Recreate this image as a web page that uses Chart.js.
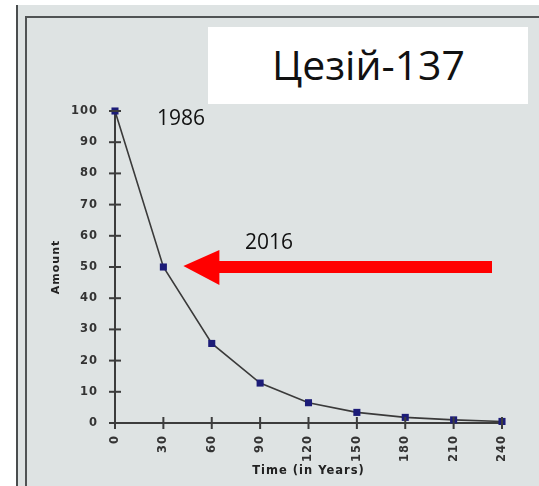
<!DOCTYPE html>
<html>
<head>
<meta charset="utf-8">
<script src="https://cdn.jsdelivr.net/npm/chart.js@4"></script>
<style>
  html, body { margin: 0; padding: 0; background: #ffffff; }
  #wrap { position: relative; width: 539px; height: 486px; overflow: hidden; }
  canvas { position: absolute; left: 0; top: 0; }
  .lbl { position: absolute; font-family: "Open Sans", "Noto Sans", sans-serif; color: #111; white-space: nowrap; line-height: 1; }
  #titlebox { position: absolute; left: 208px; top: 27px; width: 320px; height: 77px; background: #ffffff; }
</style>
</head>
<body>
<div id="wrap">
  <canvas id="c" width="539" height="486"></canvas>
  <div id="titlebox"></div>
  <div class="lbl" id="t1" style="left:272px; top:44px; font-size:41px;">Цезій-137</div>
  <div class="lbl" id="t2" style="left:157px; top:107px; font-size:21px;">1986</div>
  <div class="lbl" id="t3" style="left:245px; top:231px; font-size:21px;">2016</div>
</div>
<script>
const years = [0, 30, 60, 90, 120, 150, 180, 210, 240];
const amount = [100, 50, 25.5, 12.8, 6.5, 3.4, 1.8, 1.0, 0.5];
const xTitle = "Time (in Years)";
const yTitle = "Amount";
const arrowYear = 30;
const arrowAmount = 50;

const axisColor = "#3c3c3c";
const tickFont = { family: "DejaVu Sans", size: 11.5, weight: "bold" };

const decor = {
  id: "decor",
  beforeDraw(chart) {
    const ctx = chart.ctx;
    ctx.save();
    ctx.fillStyle = "#ffffff";
    ctx.fillRect(0, 0, 539, 486);
    ctx.fillStyle = "#dee3e3";
    ctx.fillRect(16, 5, 523, 481);
    ctx.strokeStyle = "#4a4d4e";
    ctx.lineWidth = 2;
    ctx.beginPath();
    ctx.moveTo(17, 5); ctx.lineTo(17, 486);
    ctx.stroke();
    ctx.strokeStyle = "#505354";
    ctx.beginPath();
    ctx.moveTo(539, 17); ctx.lineTo(26, 17); ctx.lineTo(26, 486);
    ctx.stroke();
    ctx.restore();
    ctx.letterSpacing = "1px";
  },
  afterDraw(chart) {
    const ctx = chart.ctx;
    const xs = chart.scales.x, ys = chart.scales.y;
    ctx.save();
    ctx.strokeStyle = axisColor;
    ctx.lineWidth = 2;
    const x0 = xs.getPixelForValue(0), y0 = ys.getPixelForValue(0);
    ys.ticks.forEach(t => {
      const y = ys.getPixelForValue(t.value);
      ctx.beginPath(); ctx.moveTo(x0 - 6, y); ctx.lineTo(x0 + 6, y); ctx.stroke();
    });
    xs.ticks.forEach(t => {
      const x = xs.getPixelForValue(t.value);
      ctx.beginPath(); ctx.moveTo(x, y0 - 6); ctx.lineTo(x, y0 + 6); ctx.stroke();
    });
    // red arrow pointing at the 50% point
    const tipX = xs.getPixelForValue(arrowYear) + 20;
    const tipY = ys.getPixelForValue(arrowAmount) - 1;
    ctx.fillStyle = "#ff0000";
    ctx.beginPath();
    ctx.moveTo(tipX, tipY);
    ctx.lineTo(tipX + 36, tipY - 16);
    ctx.lineTo(tipX + 36, tipY - 5);
    ctx.lineTo(492, tipY - 5);
    ctx.lineTo(492, tipY + 7);
    ctx.lineTo(tipX + 36, tipY + 7);
    ctx.lineTo(tipX + 36, tipY + 19);
    ctx.closePath();
    ctx.fill();
    ctx.restore();
  }
};

new Chart(document.getElementById("c"), {
  type: "line",
  data: {
    datasets: [{
      data: years.map((x, i) => ({ x: x, y: amount[i] })),
      borderColor: "#3a3a3a",
      borderWidth: 1.6,
      pointStyle: "rect",
      pointRadius: 5,
      pointBackgroundColor: "#1c1c78",
      pointBorderColor: "#1c1c78",
      pointBorderWidth: 0,
      tension: 0,
      fill: false,
      clip: false
    }]
  },
  options: {
    responsive: false,
    animation: false,
    devicePixelRatio: 1,
    layout: { padding: { left: 0, right: 37, top: 111, bottom: 0 } },
    plugins: { legend: { display: false }, tooltip: { enabled: false } },
    scales: {
      x: {
        type: "linear",
        min: 0, max: 240,
        afterFit(s) { s.height = 63; },
        grid: { display: false, drawTicks: false },
        border: { display: true, color: axisColor, width: 2 },
        ticks: { stepSize: 30, minRotation: 90, maxRotation: 90, padding: 12, color: "#333", font: tickFont },
        title: { display: true, text: xTitle, color: "#222", font: { family: "DejaVu Sans", size: 11.5, weight: "bold" }, padding: { top: 0, bottom: 8 } }
      },
      y: {
        min: 0, max: 100,
        afterFit(s) { s.width = 115; },
        grid: { display: false, drawTicks: false },
        border: { display: true, color: axisColor, width: 2 },
        ticks: { stepSize: 10, padding: 17, color: "#333", font: tickFont },
        title: { display: true, text: yTitle, color: "#222", font: { family: "DejaVu Sans", size: 11, weight: "bold" }, padding: { top: 50, bottom: 0 } }
      }
    }
  },
  plugins: [decor]
});
</script>
</body>
</html>
